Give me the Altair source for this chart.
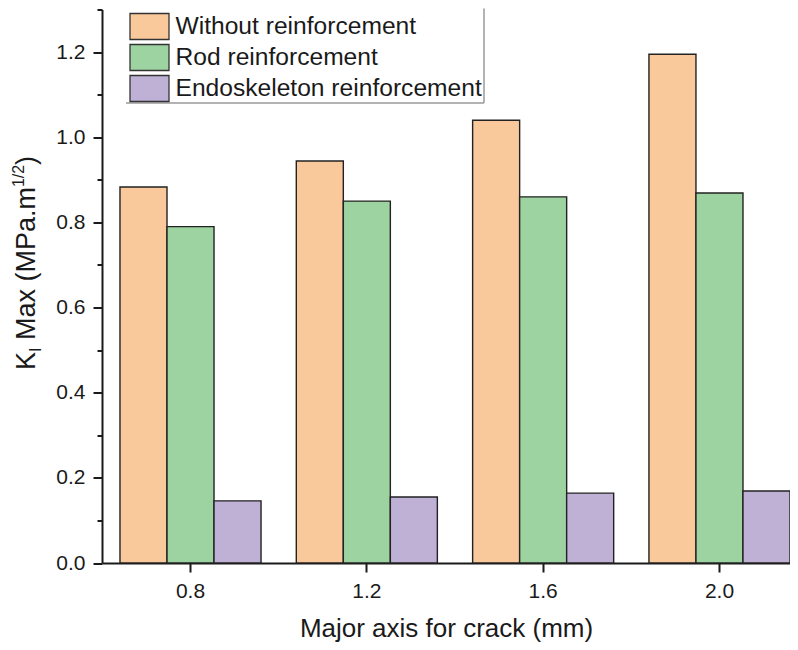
import altair as alt
import pandas as pd

cracks = ["0.8", "1.2", "1.6", "2.0"]
series = ["Without reinforcement", "Rod reinforcement", "Endoskeleton reinforcement"]
without_vals = [0.883, 0.944, 1.040, 1.195]
rod_vals = [0.790, 0.850, 0.860, 0.869]
endo_vals = [0.146, 0.155, 0.164, 0.169]
colors = ["#F9C89B", "#9DD3A0", "#BFB0D6"]
major_ticks = [0.0, 0.2, 0.4, 0.6, 0.8, 1.0, 1.2]
minor_ticks = [0.1, 0.3, 0.5, 0.7, 0.9, 1.1, 1.3]

rows = []
for name, vals in zip(series, [without_vals, rod_vals, endo_vals]):
    for c, v in zip(cracks, vals):
        rows.append({"crack": c, "series": name, "k": v})
df = pd.DataFrame(rows)

FONT = "Liberation Sans"
INK = "#1a1a1a"
W, H = 688, 553.5

yscale = alt.Scale(domain=[0, 1.3], nice=False, zero=True)

bars = alt.Chart(df).mark_bar(stroke="#222222", strokeWidth=1.4).encode(
    x=alt.X(
        "crack:N",
        sort=cracks,
        scale=alt.Scale(paddingInner=0.2, paddingOuter=0.051, align=1),
        axis=alt.Axis(
            title="Major axis for crack (mm)",
            labelAngle=0,
            labelFontSize=21,
            labelPadding=8,
            titleFontSize=26,
            titleFontWeight="normal",
            titlePadding=14,
            tickSize=9,
        ),
    ),
    xOffset=alt.XOffset("series:N", sort=series, scale=alt.Scale(paddingInner=0, paddingOuter=0)),
    y=alt.Y(
        "k:Q",
        scale=yscale,
        axis=alt.Axis(
            values=major_ticks,
            format=".1f",
            title=None,
            labelFontSize=21,
            labelPadding=8,
            tickSize=9,
        ),
    ),
    color=alt.Color(
        "series:N",
        sort=series,
        scale=alt.Scale(domain=series, range=colors),
        legend=alt.Legend(
            title=None,
            orient="none",
            legendX=33.5,
            legendY=3,
            padding=0,
            rowPadding=-1,
            labelOffset=12,
            labelLimit=500,
            labelFontSize=24.6,
            labelFont=FONT,
            labelColor=INK,
            symbolType="M-1.5,-1H1.5V1H-1.5Z",
            symbolSize=676,
            symbolStrokeColor="#333333",
            symbolStrokeWidth=1.3,
            symbolOpacity=1,
        ),
    ),
)

minor = alt.Chart(df).mark_point(opacity=0).encode(
    y=alt.Y(
        "k:Q",
        scale=yscale,
        axis=alt.Axis(
            orient="left",
            values=minor_ticks,
            labels=False,
            domain=False,
            title=None,
            tickSize=5,
        ),
    )
)


def frag(text, size, x, y):
    return alt.Chart(pd.DataFrame({"t": [text]})).mark_text(
        angle=270, align="left", baseline="alphabetic", fontSize=size, font=FONT, color=INK
    ).encode(x=alt.value(x), y=alt.value(y), text="t:N")


ytitle = [
    frag("K", 27, -67, 360.5),
    frag("I", 16, -61, 342.5),
    frag("Max (MPa.m", 27, -67, 330.6),
    frag("1/2", 16, -78, 177.6),
    frag(")", 27, -67, 155.4),
]

one = pd.DataFrame({"a": [0]})
shadow_b = alt.Chart(one).mark_rule(color="#9a9a9a", strokeWidth=1.5).encode(
    x=alt.value(24), x2=alt.value(382), y=alt.value(93.5)
)
shadow_r = alt.Chart(one).mark_rule(color="#9a9a9a", strokeWidth=1.5).encode(
    x=alt.value(382), y=alt.value(-1), y2=alt.value(93.5)
)

chart = (
    alt.layer(bars, minor, shadow_b, shadow_r, *ytitle)
    .resolve_axis(y="independent")
    .properties(
        width=W,
        height=H,
        background="white",
        autosize=alt.AutoSizeParams(type="none"),
        padding={"left": 94, "top": 1.5, "right": 0, "bottom": 79},
    )
    .configure_view(stroke=None)
    .configure_axis(
        labelFont=FONT,
        titleFont=FONT,
        labelColor=INK,
        titleColor=INK,
        titleFontWeight="normal",
        domainColor=INK,
        domainWidth=2,
        tickColor=INK,
        tickWidth=2,
        grid=False,
    )
)

chart.save("out.html", embed_options={"renderer": "svg", "actions": False})
